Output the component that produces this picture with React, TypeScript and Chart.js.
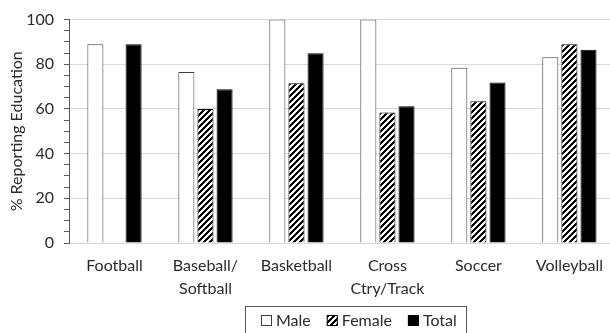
import React, { useEffect, useRef } from 'react';
import { Chart, registerables } from 'chart.js';

Chart.register(...registerables);

// Sports and the share of athletes reporting education, by group
const categories: string[][] = [
  ['Football'],
  ['Baseball/', 'Softball'],
  ['Basketball'],
  ['Cross', 'Ctry/Track'],
  ['Soccer'],
  ['Volleyball'],
];
const maleValues: number[] = [89, 76.5, 100, 100, 78.4, 83.2];
const femaleValues: (number | null)[] = [null, 60, 71.5, 58.4, 63.5, 89];
const totalValues: number[] = [89, 68.8, 84.9, 61.2, 71.8, 86.5];
const seriesNames = ['Male', 'Female', 'Total'];
const yMajorStep = 20;
const yMinorStep = 5;

const FONT = 'Lato, "Noto Sans", sans-serif';
const TEXT = '#2b2b2b';
const GRID = '#d9d9d9';
const AXIS = '#595959';

function makeHatch(ctx: CanvasRenderingContext2D): CanvasPattern | string {
  const tile = document.createElement('canvas');
  tile.width = 6;
  tile.height = 6;
  const g = tile.getContext('2d');
  if (!g) return '#888';
  g.fillStyle = '#ffffff';
  g.fillRect(0, 0, 6, 6);
  g.fillStyle = '#000000';
  for (let y = 0; y < 6; y++) {
    for (let x = 0; x < 6; x++) {
      if ((x + y) % 6 < 3) g.fillRect(x, y, 1, 1);
    }
  }
  return ctx.createPattern(tile, 'repeat') || '#888';
}

// Legend drawn as a single bordered row of swatches
const boxedLegend = {
  id: 'boxedLegend',
  afterDraw(chart: any, _args: any, opts: any) {
    const ctx: CanvasRenderingContext2D = chart.ctx;
    ctx.save();
    ctx.font = `${opts.fontSize}px ${FONT}`;
    const sw = 11;
    const gapText = 4;
    const gapItem = 16;
    const items = chart.data.datasets.map((ds: any) => ({
      ds,
      w: ctx.measureText(ds.label).width,
    }));
    const total =
      items.reduce((s: number, it: any) => s + sw + gapText + it.w, 0) +
      gapItem * (items.length - 1);
    let x = Math.round(opts.centerX - total / 2);
    const cy = opts.centerY;

    ctx.strokeStyle = AXIS;
    ctx.lineWidth = 1;
    ctx.strokeRect(x - 16 + 0.5, opts.top + 0.5, Math.round(total + 25), opts.height);

    items.forEach((it: any) => {
      const by = Math.round(cy - sw / 2);
      ctx.fillStyle = it.ds.backgroundColor;
      ctx.fillRect(x, by, sw, sw);
      ctx.strokeStyle = it.ds.borderColor;
      ctx.strokeRect(x + 0.5, by + 0.5, sw - 1, sw - 1);
      ctx.fillStyle = TEXT;
      ctx.textBaseline = 'middle';
      ctx.textAlign = 'left';
      ctx.fillText(it.ds.label, x + sw + gapText, cy + 1);
      x += sw + gapText + it.w + gapItem;
    });
    ctx.restore();
  },
};

export default function App() {
  const canvasRef = useRef<HTMLCanvasElement | null>(null);

  useEffect(() => {
    const canvas = canvasRef.current;
    if (!canvas) return;
    const ctx = canvas.getContext('2d');
    if (!ctx) return;
    const hatch = makeHatch(ctx);

    const chart = new Chart(ctx, {
      type: 'bar',
      data: {
        labels: categories,
        datasets: [
          {
            label: seriesNames[0],
            data: maleValues,
            backgroundColor: '#ffffff',
            borderColor: '#404040',
            borderWidth: 1,
          },
          {
            label: seriesNames[1],
            data: femaleValues,
            backgroundColor: hatch as any,
            borderColor: '#000000',
            borderWidth: 1,
          },
          {
            label: seriesNames[2],
            data: totalValues,
            backgroundColor: '#000000',
            borderColor: '#000000',
            borderWidth: 1,
          },
        ],
      },
      options: {
        responsive: false,
        animation: false,
        devicePixelRatio: 1,
        categoryPercentage: 0.63,
        barPercentage: 0.84,
        layout: { padding: { top: 17, right: 0, bottom: 42, left: 0 } },
        plugins: {
          legend: { display: false },
          tooltip: { enabled: false },
          boxedLegend: { fontSize: 16, centerX: 359, centerY: 320, top: 306, height: 30 },
        } as any,
        scales: {
          x: {
            grid: { display: false, drawTicks: false },
            border: { display: true, color: GRID, width: 1 },
            ticks: {
              color: TEXT,
              font: { family: FONT, size: 16, lineHeight: 1.4 },
              padding: 12,
              maxRotation: 0,
              autoSkip: false,
            },
            afterFit: (s: any) => {
              s.height = 60;
            },
          },
          y: {
            min: 0,
            max: 100,
            grid: {
              color: (c: any) => (c.tick && c.tick.value % yMajorStep === 0 ? GRID : 'rgba(0,0,0,0)'),
              tickColor: AXIS,
              tickLength: 5,
              drawTicks: true,
            },
            border: { display: true, color: AXIS, width: 1 },
            ticks: {
              stepSize: yMinorStep,
              autoSkip: false,
              color: TEXT,
              font: { family: FONT, size: 16 },
              padding: 10,
              callback: (v: any) => (Number(v) % yMajorStep === 0 ? String(v) : ''),
            },
            title: {
              display: true,
              text: '% Reporting Education',
              color: TEXT,
              font: { family: FONT, size: 16 },
              padding: { top: 7, bottom: 0 },
            },
            afterFit: (s: any) => {
              s.width = 69;
            },
          },
        },
      },
      plugins: [boxedLegend],
    });

    return () => chart.destroy();
  }, []);

  return (
    <div
      style={{
        position: 'fixed',
        left: 0,
        top: 0,
        width: 610,
        height: 333,
        overflow: 'hidden',
        background: '#ffffff',
      }}
    >
      <canvas ref={canvasRef} width={615} height={345} style={{ display: 'block' }} />
    </div>
  );
}
